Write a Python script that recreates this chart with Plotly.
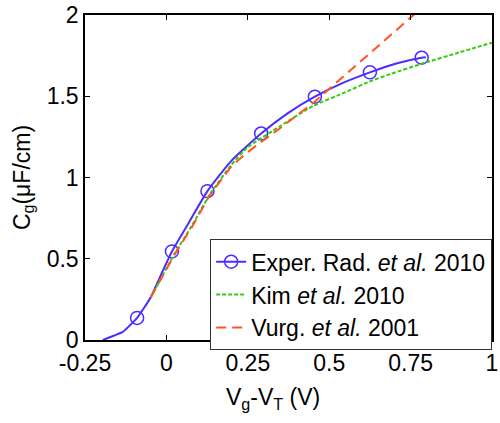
import plotly.graph_objects as go

# Experimental data (markers)
exp_x = [-0.090, 0.017, 0.126, 0.291, 0.456, 0.625, 0.784]
exp_y = [0.136, 0.545, 0.916, 1.271, 1.497, 1.647, 1.737]

# Experimental smooth line
exp_line_x = [-0.195, -0.16, -0.134, -0.090, -0.048, -0.018, 0.017, 0.068, 0.126,
              0.200, 0.291, 0.370, 0.456, 0.542, 0.625, 0.703, 0.784, 0.797]
exp_line_y = [0.0, 0.028, 0.050, 0.136, 0.263, 0.395, 0.545, 0.719, 0.916,
              1.104, 1.271, 1.392, 1.497, 1.582, 1.647, 1.700, 1.737, 1.740]

# Kim et al. 2010
kim_x = [-0.048, 0.0, 0.025, 0.080, 0.133, 0.200, 0.249, 0.350, 0.450, 0.550,
         0.623, 0.700, 0.784, 0.900, 1.0]
kim_y = [0.263, 0.440, 0.530, 0.710, 0.895, 1.080, 1.185, 1.317, 1.440, 1.525,
         1.590, 1.645, 1.700, 1.770, 1.830]

# Vurg. et al. 2001
vurg_x = [-0.048, 0.0, 0.025, 0.080, 0.133, 0.200, 0.249, 0.290, 0.350, 0.451,
          0.542, 0.650, 0.759, 0.800]
vurg_y = [0.263, 0.435, 0.525, 0.700, 0.890, 1.070, 1.155, 1.217, 1.305, 1.459,
          1.619, 1.809, 2.000, 2.072]

x_ticks = [-0.25, 0, 0.25, 0.5, 0.75, 1]
x_tick_labels = ["-0.25", "0", "0.25", "0.5", "0.75", "1"]
y_ticks = [0, 0.5, 1, 1.5, 2]
y_tick_labels = ["0", "0.5", "1", "1.5", "2"]

BLUE = "#4a2cff"
GREEN = "#33cc11"
RED = "#ff5522"
FONT = "Liberation Sans, Arial, sans-serif"

fig = go.Figure()

fig.add_trace(go.Scatter(
    x=exp_line_x, y=exp_line_y, mode="lines",
    line=dict(color=BLUE, width=2, shape="spline", smoothing=0.5),
    showlegend=False, hoverinfo="skip"))
fig.add_trace(go.Scatter(
    x=exp_x, y=exp_y, mode="markers",
    marker=dict(symbol="circle-open", size=13, color=BLUE, line=dict(width=1.5, color=BLUE)),
    showlegend=False, hoverinfo="skip"))
# legend entry for experimental data (line + open circle)
fig.add_trace(go.Scatter(
    x=[None], y=[None], mode="lines+markers",
    line=dict(color=BLUE, width=2),
    marker=dict(symbol="circle-open", size=13, color=BLUE, line=dict(width=1.5, color=BLUE)),
    name="Exper. Rad. <i>et al.</i> 2010"))
fig.add_trace(go.Scatter(
    x=kim_x, y=kim_y, mode="lines",
    line=dict(color=GREEN, width=2, dash="4px,2px", shape="spline", smoothing=0.5),
    name="Kim <i>et al.</i> 2010"))
fig.add_trace(go.Scatter(
    x=vurg_x, y=vurg_y, mode="lines",
    line=dict(color=RED, width=2, dash="10px,6px"),
    name="Vurg. <i>et al.</i> 2001"))

axis_common = dict(
    showgrid=False, zeroline=False, showline=True, linecolor="black", linewidth=1.5,
    mirror="ticks", ticks="inside", ticklen=5, tickcolor="black", tickwidth=1,
    tickfont=dict(family=FONT, size=23, color="black"),
    ticklabeloverflow="allow",
)

fig.update_layout(
    width=500, height=423,
    margin=dict(l=85, r=2, t=11, b=83),
    paper_bgcolor="white", plot_bgcolor="white",
    font=dict(family=FONT, size=23, color="black"),
    xaxis=dict(range=[-0.25, 1], tickvals=x_ticks, ticktext=x_tick_labels,
               ticklabelstandoff=2, **axis_common),
    yaxis=dict(range=[0, 2], tickvals=y_ticks, ticktext=y_tick_labels,
               title=dict(text="C<sub>g</sub>(μF/cm)", font=dict(size=23), standoff=10),
               **axis_common),
    legend=dict(x=0.3075, y=0.31, xanchor="left", yanchor="top",
                bgcolor="white", bordercolor="#333333", borderwidth=1,
                font=dict(family=FONT, size=23, color="black"),
                itemwidth=30, tracegroupgap=0),
    showlegend=True,
    annotations=[dict(
        text="V<sub>g</sub>-V<sub>T</sub> (V)", xref="paper", yref="paper",
        x=0.4625, y=-0.1277, xanchor="center", yanchor="top", showarrow=False,
        font=dict(family=FONT, size=23, color="black"))],
)

fig.write_html("out.html")
